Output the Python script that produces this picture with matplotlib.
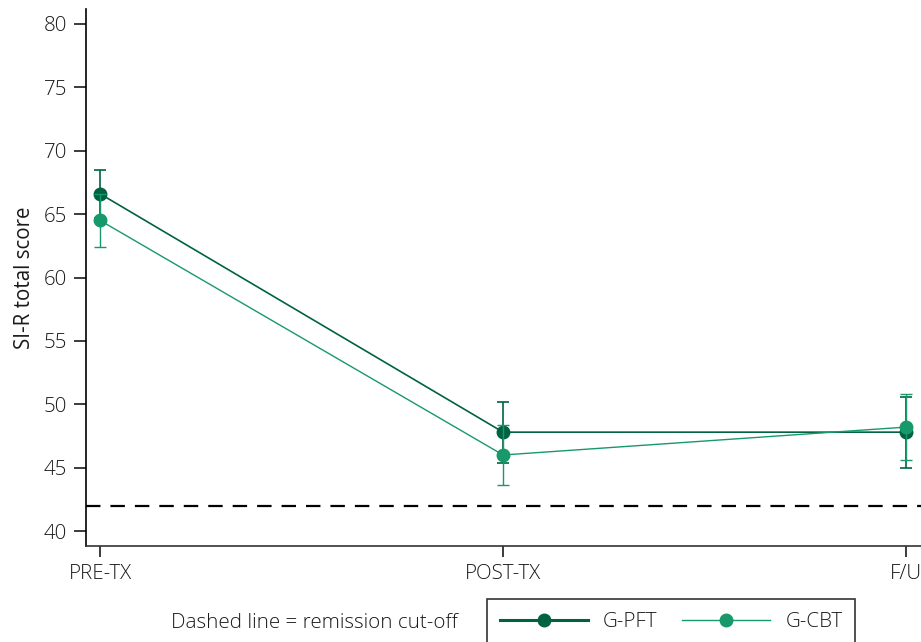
import numpy as np
import matplotlib
matplotlib.use('Agg')
import matplotlib.pyplot as plt
from matplotlib.lines import Line2D

plt.rcParams['font.family'] = ['Open Sans', 'DejaVu Sans']
plt.rcParams['font.weight'] = 'light'

# data
timepoints = ['PRE-TX', 'POST-TX', 'F/U']
pft_mean = [66.6, 47.8, 47.8]
pft_err = [1.9, 2.4, 2.8]
cbt_mean = [64.5, 46.0, 48.2]
cbt_err = [2.1, 2.4, 2.6]
cutoff = 42

dark = '#006243'
light = '#17996b'
txt = '#1a1a1a'
fs = 14.8

fig = plt.figure(figsize=(9.21, 6.42), dpi=100)
ax = fig.add_axes([86/921, 1 - 546/642, 1 - 86/921, (546 - 9)/642])

x = np.arange(len(timepoints))
ax.axhline(cutoff, color='black', lw=1.6, dashes=(6.5, 4.5), zorder=1)
ax.errorbar(x, pft_mean, yerr=pft_err, color=dark, marker='o', ms=9, lw=1.2,
            elinewidth=1.2, capsize=4, capthick=1.2, zorder=3)
ax.errorbar(x, cbt_mean, yerr=cbt_err, color=light, marker='o', ms=9, lw=1.0,
            elinewidth=1.0, capsize=4, capthick=1.0, zorder=4)

ax.set_xlim(-0.035, 2.037)
ax.set_ylim(38.82, 81.18)
ax.set_yticks(range(40, 81, 5))
ax.set_xticks(x)
ax.set_xticklabels(timepoints)
ax.spines['top'].set_visible(False)
ax.spines['right'].set_visible(False)
ax.spines['left'].set_linewidth(1.2)
ax.spines['bottom'].set_linewidth(1.2)
ax.spines['bottom'].set_color('#333333')
ax.tick_params(axis='y', length=8.6, width=1.2, labelsize=fs, colors=txt, pad=5)
ax.tick_params(axis='x', length=8, width=1.2, labelsize=fs, colors=txt, pad=5)
ax.set_ylabel('SI-R total score', fontsize=fs, color=txt, labelpad=6)

fig.text(314/921, 1 - 623/642, 'Dashed line = remission cut-off', fontsize=fs,
         ha='center', va='center', color=txt)

handles = [Line2D([], [], color=dark, lw=2.2, marker='o', ms=9),
           Line2D([], [], color=light, lw=1.0, marker='o', ms=9)]
leg = fig.legend(handles, ['G-PFT', 'G-CBT'], loc='upper left',
                 bbox_to_anchor=(487/921, 1 - 599/642), ncol=2,
                 fontsize=fs, frameon=True, fancybox=False, edgecolor='black',
                 handlelength=4.3, handletextpad=0.72, columnspacing=1.2,
                 borderpad=0.62, borderaxespad=0)
leg.get_frame().set_linewidth(1.2)
for t in leg.get_texts():
    t.set_color(txt)

fig.savefig('out.png', dpi=100)
